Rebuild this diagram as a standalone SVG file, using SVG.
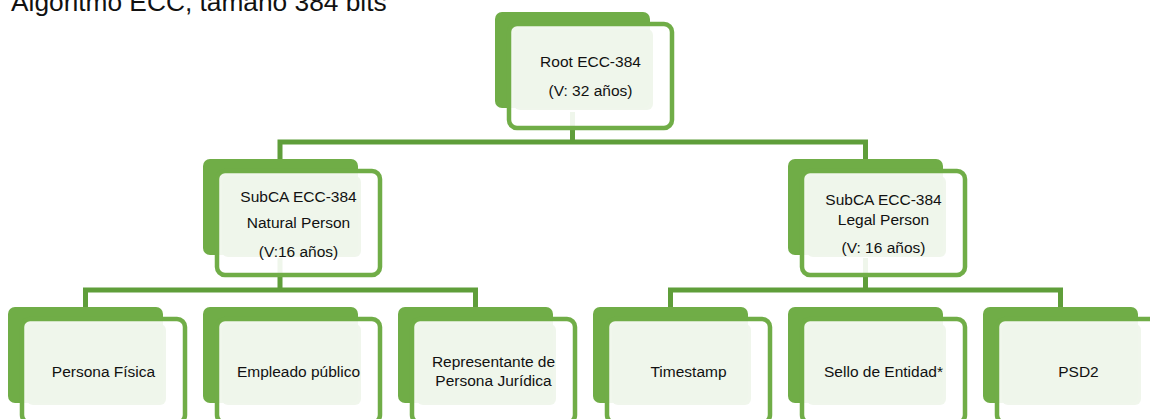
<svg xmlns="http://www.w3.org/2000/svg" width="1150" height="419" viewBox="0 0 1150 419">
<defs>
<style>
.back{fill:#70AD47}
.front{fill:#FFFFFF;fill-opacity:0.9;stroke:#70AD47;stroke-width:4.5}
.light{fill:#EFF5EA;fill-opacity:0.92}
.conn{fill:none;stroke:#5F9E3A;stroke-width:5;stroke-linejoin:miter}
text{font-family:"Liberation Sans",Arial,sans-serif;font-size:15.5px;fill:#111;text-anchor:middle}
.title{font-size:26.3px;text-anchor:start}
</style>
</defs>
<rect width="1150" height="419" fill="#FFFFFF"/>
<text class="title" x="11" y="11">Algoritmo ECC, tamaño 384 bits</text>
<g id="connectors">
<path class="conn" d="M572.5 112 V142 M280 159 V142 H865.5 V159"/>
<path class="conn" d="M280 258 V290 M85.5 307 V290 H475.5 V307"/>
<path class="conn" d="M865.5 258 V290 M670.5 307 V290 H1060.5 V307"/>
</g>
<g id="root">
<rect class="back" x="495" y="12" width="155" height="96" rx="7"/>
<rect class="front" x="509" y="24" width="163" height="104" rx="8"/>
<rect class="light" x="514" y="29" width="139" height="81" rx="6"/>
<text x="590.5" y="67">Root ECC-384</text>
<text x="590.5" y="96">(V: 32 años)</text>
</g>
<g id="subca-natural">
<rect class="back" x="203" y="159" width="155" height="96" rx="7"/>
<rect class="front" x="217" y="171" width="163" height="104" rx="8"/>
<rect class="light" x="222" y="176" width="139" height="81" rx="6"/>
<text x="298.5" y="202">SubCA ECC-384</text>
<text x="298.5" y="228">Natural Person</text>
<text x="298.5" y="257">(V:16 años)</text>
</g>
<g id="subca-legal">
<rect class="back" x="788" y="159" width="155" height="96" rx="7"/>
<rect class="front" x="802" y="171" width="163" height="104" rx="8"/>
<rect class="light" x="807" y="176" width="139" height="81" rx="6"/>
<text x="883.5" y="205">SubCA ECC-384</text>
<text x="883.5" y="225">Legal Person</text>
<text x="883.5" y="253">(V: 16 años)</text>
</g>
<g id="persona-fisica">
<rect class="back" x="8" y="307" width="155" height="96" rx="7"/>
<rect class="front" x="22" y="319" width="163" height="104" rx="8"/>
<rect class="light" x="27" y="324" width="139" height="81" rx="6"/>
<text x="103.5" y="377">Persona Física</text>
</g>
<g id="empleado-publico">
<rect class="back" x="203" y="307" width="155" height="96" rx="7"/>
<rect class="front" x="217" y="319" width="163" height="104" rx="8"/>
<rect class="light" x="222" y="324" width="139" height="81" rx="6"/>
<text x="298.5" y="377">Empleado público</text>
</g>
<g id="representante">
<rect class="back" x="398" y="307" width="155" height="96" rx="7"/>
<rect class="front" x="412" y="319" width="163" height="104" rx="8"/>
<rect class="light" x="417" y="324" width="139" height="81" rx="6"/>
<text x="493.5" y="367">Representante de</text>
<text x="493.5" y="386">Persona Jurídica</text>
</g>
<g id="timestamp">
<rect class="back" x="593" y="307" width="155" height="96" rx="7"/>
<rect class="front" x="607" y="319" width="163" height="104" rx="8"/>
<rect class="light" x="612" y="324" width="139" height="81" rx="6"/>
<text x="688.5" y="377">Timestamp</text>
</g>
<g id="sello-entidad">
<rect class="back" x="788" y="307" width="155" height="96" rx="7"/>
<rect class="front" x="802" y="319" width="163" height="104" rx="8"/>
<rect class="light" x="807" y="324" width="139" height="81" rx="6"/>
<text x="883.5" y="377">Sello de Entidad*</text>
</g>
<g id="psd2">
<rect class="back" x="983" y="307" width="155" height="96" rx="7"/>
<rect class="front" x="997" y="319" width="163" height="104" rx="8"/>
<rect class="light" x="1002" y="324" width="139" height="81" rx="6"/>
<text x="1078.5" y="377">PSD2</text>
</g>
</svg>
